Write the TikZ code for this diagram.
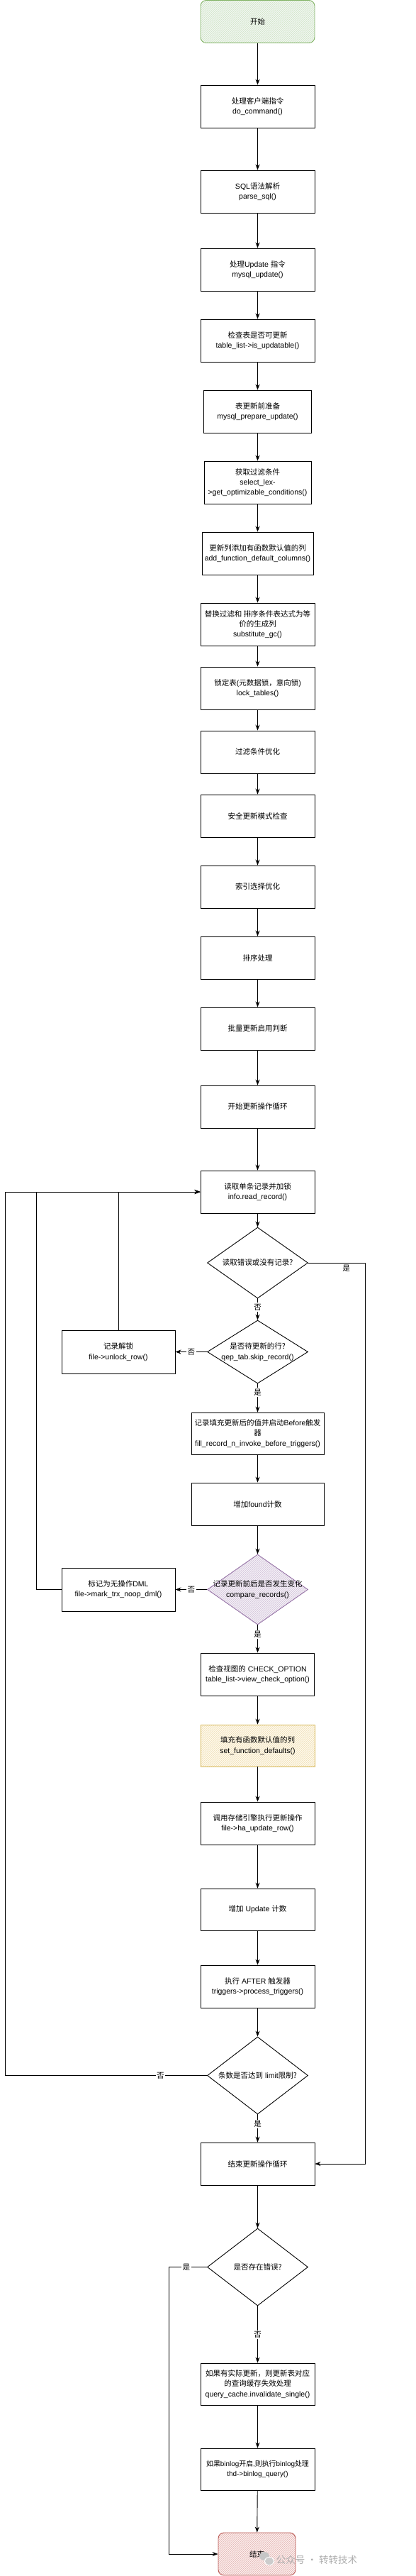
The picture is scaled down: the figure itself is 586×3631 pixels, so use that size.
\documentclass[tikz,border=0pt]{standalone}
\usepackage{fontspec}
\setmainfont{Liberation Sans}
\newfontfamily\cjkf{Noto Sans CJK SC}
\newcommand\zh[1]{{\cjkf #1}}
\usetikzlibrary{shapes.geometric,arrows.meta,patterns}
\definecolor{gstroke}{HTML}{82B366}
\definecolor{gfill}{HTML}{D5E8D4}
\definecolor{rstroke}{HTML}{B85450}
\definecolor{rfill}{HTML}{F8CECC}
\definecolor{pstroke}{HTML}{9673A6}
\definecolor{pfill}{HTML}{E1D5E7}
\definecolor{ystroke}{HTML}{D6B656}
\definecolor{yfill}{HTML}{FFF2CC}
\begin{document}
\begin{tikzpicture}[x=1pt,y=-1pt,
  every node/.style={font=\fontsize{10.5}{14.3}\selectfont},
  box/.style={draw,line width=0.9pt,minimum width=161pt,minimum height=60pt,align=center,inner sep=1pt},
  dia/.style={draw,diamond,line width=0.9pt,minimum width=142pt,minimum height=100pt,inner sep=0pt},
  txt/.style={align=center,inner sep=0pt},
  arr/.style={-{Stealth[length=8pt,width=6pt]},line width=0.9pt},
  lbl/.style={fill=white,inner sep=1.5pt},
  hatch/.style 2 args={draw=#1,preaction={fill=#2!35},preaction={pattern=north east lines,pattern color=#1!45}},
]
\useasboundingbox (0,0) rectangle (586,3631);

% main column
\node[box,rounded corners=8pt,hatch={gstroke}{gfill}] (start) at (363.5,30.5) {\zh{开始}};
\node[box] (b1) at (363.5,150) {\zh{处理客户端指令}\\do\_command()};
\node[box] (b2) at (363.5,270) {SQL\zh{语法解析}\\parse\_sql()};
\node[box] (b3) at (363.5,380) {\zh{处理}Update \zh{指令}\\mysql\_update()};
\node[box] (b4) at (363.5,480) {\zh{检查表是否可更新}\\table\_list->is\_updatable()};
\node[box,minimum width=152pt] (b5) at (363.5,580) {\zh{表更新前准备}\\mysql\_prepare\_update()};
\node[box,minimum width=151pt] (b6) at (363.5,680) {\zh{获取过滤条件}\\select\_lex-\\>get\_optimizable\_conditions()};
\node[box,minimum width=157pt] (b7) at (363.5,780) {\zh{更新列添加有函数默认值的列}\\add\_function\_default\_columns()};
\node[box] (b8) at (363.5,880) {\zh{替换过滤和 排序条件表达式为等}\\\zh{价的生成列}\\substitute\_gc()};
\node[box] (b9) at (363.5,970) {\zh{锁定表}(\zh{元数据锁，意向锁})\\lock\_tables()};
\node[box] (b10) at (363.5,1060) {\zh{过滤条件优化}};
\node[box] (b11) at (363.5,1150) {\zh{安全更新模式检查}};
\node[box] (b12) at (363.5,1250) {\zh{索引选择优化}};
\node[box] (b13) at (363.5,1350) {\zh{排序处理}};
\node[box] (b14) at (363.5,1450) {\zh{批量更新启用判断}};
\node[box] (b15) at (363.5,1560) {\zh{开始更新操作循环}};
\node[box] (b16) at (363.5,1680) {\zh{读取单条记录并加锁}\\info.read\_record()};

\node[dia] (d1) at (363.5,1780) {};
\node[txt] (d1t) at (d1) {\zh{读取错误或没有记录?}};

\node[dia,minimum height=89pt] (d2) at (363.5,1905.5) {};
\node[txt] (d2t) at (d2) {\zh{是否待更新的行?}\\qep\_tab.skip\_record()};

\node[box,minimum width=160pt,minimum height=61pt] (unlock) at (167,1905.5) {\zh{记录解锁}\\file->unlock\_row()};

\node[box,minimum width=187pt,minimum height=59pt] (b17) at (363.5,2020.5) {\zh{记录填充更新后的值并启动}Before\zh{触发}\\\zh{器}\\fill\_record\_n\_invoke\_before\_triggers()};
\node[box,minimum width=187pt] (b18) at (363.5,2120) {\zh{增加}found\zh{计数}};

\node[dia,minimum height=99pt,hatch={pstroke}{pfill}] (d3) at (363.5,2240.5) {};
\node[txt] (d3t) at (d3) {\zh{记录更新前后是否发生变化}\\compare\_records()};

\node[box,minimum width=160pt,minimum height=61pt] (mark) at (167,2240.5) {\zh{标记为无操作}DML\\file->mark\_trx\_noop\_dml()};

\node[box,minimum width=160pt] (b19) at (363.5,2360) {\zh{检查视图的} CHECK\_OPTION\\table\_list->view\_check\_option()};
\node[box,minimum height=59pt,hatch={ystroke}{yfill}] (b20) at (363.5,2460.5) {\zh{填充有函数默认值的列}\\set\_function\_defaults()};
\node[box] (b21) at (363.5,2570) {\zh{调用存储引擎执行更新操作}\\file->ha\_update\_row()};
\node[box,minimum height=59pt] (b22) at (363.5,2691.5) {\zh{增加} Update \zh{计数}};
\node[box] (b23) at (363.5,2800) {\zh{执行} AFTER \zh{触发器}\\triggers->process\_triggers()};

\node[dia,minimum height=109pt] (d4) at (363.5,2925.5) {};
\node[txt] (d4t) at (d4) {\zh{条数是否达到} limit\zh{限制?}};

\node[box] (b24) at (363.5,3050) {\zh{结束更新操作循环}};

\node[dia,minimum height=109pt] (d5) at (363.5,3195.5) {};
\node[txt] (d5t) at (d5) {\zh{是否存在错误?}};

\node[box,minimum height=59pt] (b25) at (363.5,3360.5) {\zh{如果有实际更新，则更新表对应}\\\zh{的查询缓存失效处理}\\query\_cache.invalidate\_single()};
\node[box,minimum height=59pt,font=\fontsize{9.9}{14.3}\selectfont] (b26) at (363.5,3480.5) {\zh{如果}binlog\zh{开启},\zh{则执行}binlog\zh{处理}\\thd->binlog\_query()};

\node[box,minimum width=109pt,rounded corners=8pt,hatch={rstroke}{rfill}] (stop) at (362.5,3600) {\zh{结束}};

% straight connectors
\foreach \a/\b in {start/b1,b1/b2,b2/b3,b3/b4,b4/b5,b5/b6,b6/b7,b7/b8,b8/b9,b9/b10,b10/b11,b11/b12,b12/b13,b13/b14,b14/b15,b15/b16,b16/d1,b17/b18,b18/d3,b19/b20,b20/b21,b21/b22,b22/b23,b23/d4,b24/d5,b25/b26,b26/stop}
  \draw[arr] (\a) -- (\b);

% labelled connectors
\draw[arr] (d1) -- node[lbl,pos=0.4]{\zh{否}} (d2);
\draw[arr] (d2) -- node[lbl]{\zh{否}} (unlock);
\draw[arr] (d2) -- node[lbl,pos=0.3]{\zh{是}} (b17);
\draw[arr] (d3) -- node[lbl]{\zh{否}} (mark);
\draw[arr] (d3) -- node[lbl,pos=0.35]{\zh{是}} (b19);
\draw[arr] (d4) -- node[lbl,pos=0.35]{\zh{是}} (b24);
\draw[arr] (d5) -- node[lbl]{\zh{否}} (b25);

% loops
\coordinate (lx1) at (7,0);
\coordinate (lx2) at (51,0);
\coordinate (lx3) at (238,0);
\coordinate (rx) at (515,0);
\draw[arr] (unlock.north) |- (b16.west);
\draw[arr] (mark.west) -| (lx2 |- b16.west) -- (b16.west);
\draw[arr] (d4.west) -- node[lbl,pos=0.23]{\zh{否}} (d4.west -| lx1) |- (b16.west);
\draw[arr] (d1.east) -- node[pos=0.67,anchor=north,inner sep=3pt]{\zh{是}} (d1.east -| rx) |- (b24.east);
\draw[arr] (d5.west) -- node[lbl,pos=0.54]{\zh{是}} (d5.west -| lx3) |- (stop.west);

% watermark
\fill[gray!45] (373,3603) ellipse (7 and 6);
\fill[white] (380,3610) ellipse (7 and 6);
\fill[gray!40] (380,3610) ellipse (6 and 5);
\node[text=gray!65,font=\fontsize{13.5}{16}\selectfont] (wm) at (447,3608) {\zh{公众号 · 转转技术}};
\end{tikzpicture}
\end{document}
